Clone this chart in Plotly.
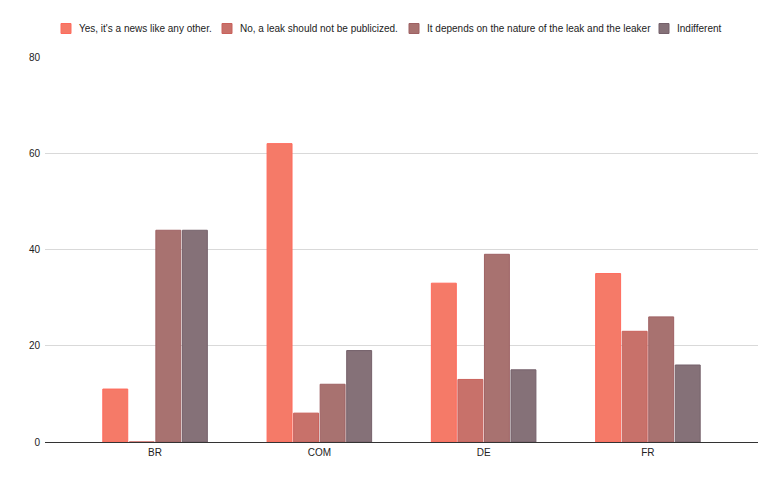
import plotly.graph_objects as go

categories = ["BR", "COM", "DE", "FR"]
series_names = [
    "Yes, it's a news like any other.",
    "No, a leak should not be publicized.",
    "It depends on the nature of the leak and the leaker",
    "Indifferent",
]
yes_values = [11, 62, 33, 35]
no_values = [0, 6, 13, 23]
depends_values = [44, 12, 39, 26]
indifferent_values = [44, 19, 15, 16]
y_ticks = [0, 20, 40, 60, 80]

fill_colors = ["#F57A68", "#C8716A", "#A87270", "#857178"]
line_colors = ["#FF6A5C", "#C9615B", "#9E6163", "#75616B"]

OFF = 8  # page body margin
W, H = 782 - 2 * OFF, 483 - 2 * OFF
ML, MR, MT, MB = 45 - OFF, 24 - OFF, 57 - OFF, 41 - OFF
PW, PH = W - ML - MR, H - MT - MB

fig = go.Figure()
for name, vals, fc, lc in zip(series_names,
                              [yes_values, no_values, depends_values, indifferent_values],
                              fill_colors, line_colors):
    fig.add_trace(go.Bar(x=categories, y=vals, name=name,
                         marker=dict(color=fc, line=dict(color=lc, width=1)),
                         showlegend=False))

# manual legend (Google Sheets style), positions in page pixels
legend_swatch_px = [61, 222, 409, 659]
def px_x(p):
    return (p - OFF - ML) / PW
def px_y(p):
    return 1 - (p - OFF - MT) / PH
for name, fc, lc, sx in zip(series_names, fill_colors, line_colors, legend_swatch_px):
    fig.add_shape(type="rect", xref="paper", yref="paper",
                  x0=px_x(sx), x1=px_x(sx + 10), y0=px_y(33.5), y1=px_y(23.5),
                  fillcolor=fc, line=dict(color=lc, width=1))
    fig.add_annotation(xref="paper", yref="paper", x=px_x(sx + 16), y=px_y(28.5),
                       text=name, showarrow=False, xanchor="left", yanchor="middle",
                       font=dict(family="Liberation Sans, Arial", size=10, color="#222222"))

fig.update_layout(
    width=W, height=H,
    margin=dict(l=ML, r=MR, t=MT, b=MB),
    paper_bgcolor="white", plot_bgcolor="white",
    barmode="group", bargap=0.354, bargroupgap=0.06,
    font=dict(family="Liberation Sans, Arial", size=10, color="#222222"),
    xaxis=dict(range=[-0.67, 3.67], showgrid=False, showline=False, ticks="",
               ticklabelstandoff=3, tickfont=dict(size=10, color="#222222")),
    yaxis=dict(range=[0, 80], tickvals=y_ticks, showgrid=True, gridcolor="#d9d9d9",
               gridwidth=1, zeroline=True, zerolinecolor="#333333", zerolinewidth=1,
               showline=False, ticks="", ticklabelstandoff=4,
               tickfont=dict(size=10, color="#222222")),
)

fig.write_html("out.html")
